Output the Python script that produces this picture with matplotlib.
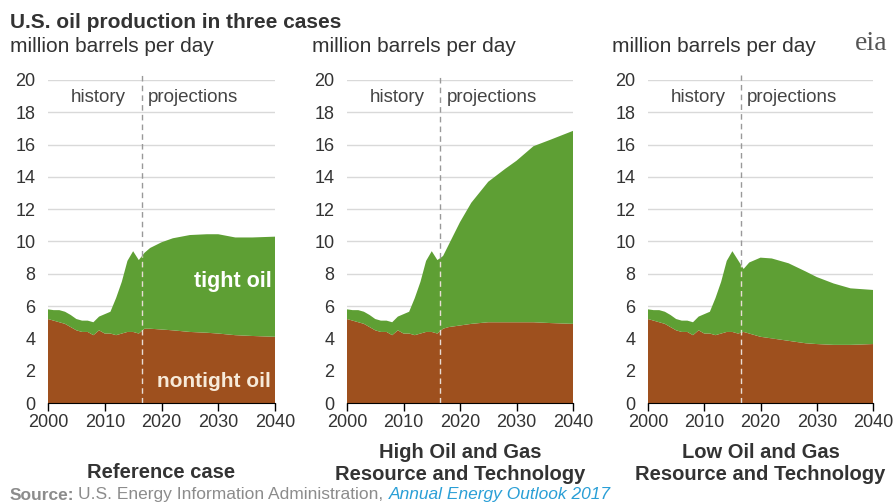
"""
U.S. oil production in three cases (EIA AEO2017 style)
"""
import matplotlib as mpl
import matplotlib.pyplot as plt
import numpy as np

mpl.rcParams['font.family'] = ['Liberation Sans', 'DejaVu Sans']

# shared history
hist_years = [2000, 2001, 2002, 2003, 2004, 2005, 2006, 2007, 2008,
              2009, 2010, 2011, 2012, 2013, 2014, 2015, 2016]
hist_total = [5.8, 5.75, 5.75, 5.65, 5.45, 5.2, 5.1, 5.1, 5.0,
              5.35, 5.5, 5.65, 6.5, 7.5, 8.8, 9.4, 8.85]
hist_nontight = [5.2, 5.1, 5.0, 4.9, 4.7, 4.5, 4.4, 4.4, 4.2,
                 4.5, 4.3, 4.3, 4.2, 4.3, 4.4, 4.4, 4.3]

# projections
proj_years = [2017, 2018, 2020, 2022, 2025, 2028, 2030, 2033, 2036, 2040]
ref_total = [9.3, 9.6, 9.95, 10.2, 10.4, 10.45, 10.45, 10.25, 10.25, 10.3]
ref_nontight = [4.6, 4.6, 4.55, 4.5, 4.4, 4.35, 4.3, 4.2, 4.15, 4.1]
high_total = [9.1, 9.8, 11.2, 12.4, 13.7, 14.5, 15.0, 15.9, 16.3, 16.85]
high_nontight = [4.6, 4.7, 4.8, 4.9, 5.0, 5.0, 5.0, 5.0, 4.95, 4.9]
low_total = [8.3, 8.7, 9.0, 8.95, 8.65, 8.15, 7.8, 7.4, 7.1, 7.0]
low_nontight = [4.4, 4.3, 4.1, 4.0, 3.85, 3.7, 3.65, 3.6, 3.6, 3.65]

case_lines = [['Reference case'],
              ['High Oil and Gas', 'Resource and Technology'],
              ['Low Oil and Gas', 'Resource and Technology']]
case_totals = [ref_total, high_total, low_total]
case_nontight = [ref_nontight, high_nontight, low_nontight]

green = '#5e9f34'
brown = '#9e501e'
text_gray = '#333333'

fig = plt.figure(figsize=(8.95, 5.04), dpi=100)

lefts = [48, 347, 648]
widths = [227, 226, 225]
W, H = 895, 504
y0_px, y20_px = 403, 80

years = np.array(hist_years + proj_years)
for i in range(3):
    ax = fig.add_axes([lefts[i] / W, (H - y0_px) / H,
                       widths[i] / W, (y0_px - y20_px) / H])
    total = np.array(hist_total + case_totals[i])
    nontight = np.array(hist_nontight + case_nontight[i])
    tight = total - nontight

    ax.stackplot(years, nontight, tight, colors=[brown, green],
                 linewidth=0, zorder=2)

    ax.set_xlim(2000, 2040)
    ax.set_ylim(0, 20)
    ax.set_yticks(range(0, 21, 2))
    ax.set_xticks([2000, 2010, 2020, 2030, 2040])
    ax.yaxis.grid(True, color='#d9d9d9', linewidth=1)
    ax.set_axisbelow(True)
    for s in ['top', 'right', 'left']:
        ax.spines[s].set_visible(False)
    ax.spines['bottom'].set_color('black')
    ax.spines['bottom'].set_zorder(5)
    ax.tick_params(axis='y', length=0, labelsize=13, colors=text_gray, pad=9)
    ax.tick_params(axis='x', length=6, width=1, direction='out',
                   labelsize=13, labelcolor=text_gray, pad=2)

    # history / projections divider
    div = 2016.5
    top = np.interp(div, years, total)
    ax.plot([div, div], [top, 20.3], color='#999999', lw=1,
            ls=(0, (4, 3)), zorder=3, clip_on=False)
    ax.plot([div, div], [0, top], color='#e8ddd5', lw=1,
            ls=(0, (4, 3)), zorder=3)
    ax.text(2008.9, 18.9, 'history', ha='center', va='center',
            fontsize=13.5, color='#444444', zorder=4)
    ax.text(2025.6, 18.9, 'projections', ha='center', va='center',
            fontsize=13.5, color='#444444', zorder=4)

    if i == 0:
        ax.text(2032.6, 7.55, 'tight oil', ha='center', va='center',
                fontsize=15.5, fontweight='bold', color='white', zorder=4)
        ax.text(2029.2, 1.35, 'nontight oil', ha='center', va='center',
                fontsize=15, fontweight='bold', color='#f7ead9', zorder=4)

    # case name under each panel
    cx = (lefts[i] + widths[i] / 2) / W
    lines = case_lines[i]
    if len(lines) == 1:
        fig.text(cx, 1 - 472 / H, lines[0], ha='center', va='center',
                 fontsize=14.5, fontweight='bold', color=text_gray)
    else:
        for k, line in enumerate(lines):
            fig.text(cx, 1 - (452 + 22 * k) / H, line, ha='center',
                     va='center', fontsize=14.5, fontweight='bold',
                     color=text_gray)

# titles
fig.text(10 / W, 1 - 22 / H, 'U.S. oil production in three cases',
         fontsize=15, fontweight='bold', color=text_gray, va='center')
for x in [10, 312, 612]:
    fig.text(x / W, 1 - 47 / H, 'million barrels per day', fontsize=15,
             color=text_gray, va='center')

# eia logo text
fig.text(855 / W, 1 - 43 / H, 'eia', fontsize=20, color='#555555',
         family='Liberation Serif', va='center')

# source
src_y = 1 - 495 / H
t1 = fig.text(10 / W, src_y, 'Source:', fontsize=12.5, fontweight='bold',
              color='#8c8c8c', va='center')
fig.canvas.draw()
bb = t1.get_window_extent()
t2 = fig.text(bb.x1 / W + 4 / W, src_y,
              'U.S. Energy Information Administration, ',
              fontsize=12.5, color='#8c8c8c', va='center')
bb2 = t2.get_window_extent()
fig.text(bb2.x1 / W, src_y, 'Annual Energy Outlook 2017', fontsize=12.5,
         style='italic', color='#2a9fd6', va='center')

fig.savefig('out.png', dpi=100)
plt.close('all')
